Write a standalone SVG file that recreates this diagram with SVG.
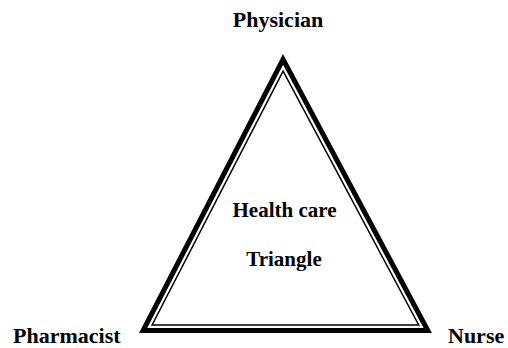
<svg xmlns="http://www.w3.org/2000/svg" width="508" height="348" viewBox="0 0 508 348">
<style>
.lbl{font-family:"Liberation Serif","Times New Roman",serif;font-weight:bold;font-size:22px;fill:#000}
.ctr{font-family:"Liberation Serif","Times New Roman",serif;font-weight:bold;font-size:21px;fill:#000;text-anchor:middle}
.thick{fill:none;stroke:#000;stroke-width:5;stroke-linejoin:miter;stroke-miterlimit:10}
.thin{fill:none;stroke:#000;stroke-width:1.5;stroke-linejoin:miter;stroke-miterlimit:10}
</style>
<rect width="508" height="348" fill="#fff"/>
<g id="connectors">
<polygon class="thick" points="283.04,59.4 143.1,330.5 427.8,330.5"/>
<polygon class="thin" points="283.1,71.2 152.1,325 418.7,325"/>
</g>
<g id="physician"><text class="lbl" x="278" y="27" text-anchor="middle">Physician</text></g>
<g id="pharmacist"><text class="lbl" x="13" y="343">Pharmacist</text></g>
<g id="nurse"><text class="lbl" x="448" y="343">Nurse</text></g>
<g id="center"><text class="ctr" x="284.5" y="217">Health care</text><text class="ctr" x="284" y="266">Triangle</text></g>
</svg>
